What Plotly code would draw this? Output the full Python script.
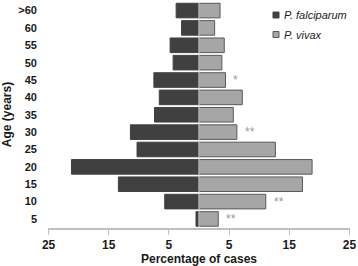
import plotly.graph_objects as go

ages = ["5", "10", "15", "20", "25", "30", "35", "40", "45", "50", "55", "60", ">60"]
falciparum = [0.5, 5.7, 13.4, 21.2, 10.3, 11.4, 7.4, 6.6, 7.5, 4.3, 4.8, 2.9, 3.8]
vivax = [3.2, 11.1, 17.2, 18.8, 12.7, 6.3, 5.7, 7.2, 4.4, 3.8, 4.2, 2.6, 3.5]
signif = {"5": "**", "10": "**", "30": "**", "45": "*"}
xticks = [-25, -15, -5, 5, 15, 25]
xticklabels = ["25", "15", "5", "5", "15", "25"]
series_names = ["P. falciparum", "P. vivax"]
colors = ["#404040", "#a6a6a6"]
outlines = ["#404040", "#595959"]

W, H = 358, 266
L, R, T, B = 48, 8, 1, 38

idx = list(range(len(ages)))
fig = go.Figure()
fig.add_bar(y=idx, x=[-v for v in falciparum], orientation="h", name=series_names[0],
            marker=dict(color=colors[0], line=dict(color=outlines[0], width=1)), width=0.84,
            showlegend=False)
fig.add_bar(y=idx, x=vivax, orientation="h", name=series_names[1],
            marker=dict(color=colors[1], line=dict(color=outlines[1], width=1)), width=0.84,
            showlegend=False)

for a, s in signif.items():
    i = ages.index(a)
    fig.add_annotation(x=vivax[i] + 1.0, y=i, text=s, showarrow=False, xanchor="left",
                       font=dict(size=12, color="#999999", family="Liberation Sans"))

fig.add_shape(type="line", x0=0, x1=0, y0=-0.5, y1=12.5, xref="x", yref="y",
              line=dict(color="#d9d9d9", width=1), layer="above")

# legend drawn in paper coordinates
pw, ph = W - L - R, H - T - B
for k, (nm, c, oc) in enumerate(zip(series_names, colors, outlines)):
    yc = 15 + k * 19.5
    x0 = (273 - L) / pw
    x1 = (279 - L) / pw
    y0 = 1 - (yc - 3 - T) / ph
    y1 = 1 - (yc + 3 - T) / ph
    fig.add_shape(type="rect", xref="paper", yref="paper", x0=x0, x1=x1, y0=y0, y1=y1,
                  fillcolor=c, line=dict(color=oc, width=1))
    fig.add_annotation(xref="paper", yref="paper", x=(282 - L) / pw, y=1 - (yc - T) / ph,
                       text="<i>%s</i>" % nm, showarrow=False, xanchor="left", yanchor="middle",
                       font=dict(size=11, color="#1a1a1a", family="Liberation Sans"))

fig.update_layout(
    width=W, height=H, barmode="overlay",
    margin=dict(l=L, r=R, t=T, b=B),
    plot_bgcolor="white", paper_bgcolor="white",
    font=dict(family="Liberation Sans", color="#1a1a1a"),
    showlegend=False,
    xaxis=dict(range=[-25.1, 25.1], tickvals=xticks, ticktext=xticklabels, automargin=False,
               showgrid=False, zeroline=False, showline=True, linecolor="#bfbfbf", linewidth=2,
               ticks="outside", ticklen=5, tickcolor="#bfbfbf",
               tickfont=dict(size=12, family="Liberation Sans", weight="bold"),
               title=dict(text="<b>Percentage of cases</b>", font=dict(size=12), standoff=0)),
    yaxis=dict(range=[-0.52, 12.55], tickvals=idx, ticktext=["<b>%s</b>" % a for a in ages],
               showgrid=False, zeroline=False, showline=False, ticks="", automargin=False,
               tickfont=dict(size=11), ticklabelstandoff=10,
               title=dict(text="<b>Age (years)</b>", font=dict(size=12), standoff=6)),
)
fig.write_html("out.html", config={"displayModeBar": False},
               post_script="document.body.style.margin='0';")
